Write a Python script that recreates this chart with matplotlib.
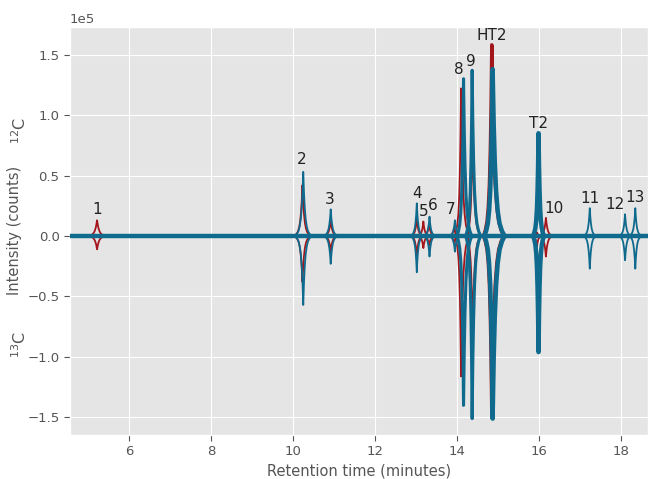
import numpy as np
import matplotlib
matplotlib.use('Agg')
import matplotlib.pyplot as plt
import matplotlib.transforms as mtransforms

plt.style.use('ggplot')

# Peak table (intensity in units of 1e5 counts)
# red trace
red_rt = [5.22, 10.23, 10.92, 13.02, 13.18, 13.32, 13.93, 14.10, 14.38, 14.85, 15.95, 16.17]
red_12c = [0.13, 0.42, 0.13, 0.15, 0.12, 0.10, 0.07, 1.22, 0.83, 1.58, 0.03, 0.15]
red_13c = [0.11, 0.38, 0.13, 0.17, 0.10, 0.08, 0.06, 1.16, 0.80, 1.47, 0.09, 0.17]
# peak tailing (minutes) on the left / right side
red_left = [0.05, 0.045, 0.04, 0.035, 0.035, 0.035, 0.035, 0.035, 0.035, 0.045, 0.03, 0.04]
red_right = [0.05, 0.045, 0.04, 0.035, 0.035, 0.035, 0.035, 0.045, 0.045, 0.065, 0.03, 0.04]

# blue trace
blue_rt = [10.25, 10.92, 13.02, 13.33, 13.95, 14.16, 14.37, 14.55, 14.87, 15.99, 17.24, 18.10, 18.35]
blue_12c = [0.53, 0.22, 0.27, 0.16, 0.13, 1.30, 1.37, 0.03, 1.38, 0.85, 0.23, 0.18, 0.23]
blue_13c = [0.57, 0.23, 0.30, 0.17, 0.13, 1.40, 1.51, 0.03, 1.51, 0.96, 0.27, 0.20, 0.27]
blue_left = [0.045, 0.04, 0.035, 0.035, 0.035, 0.035, 0.035, 0.03, 0.045, 0.03, 0.035, 0.035, 0.035]
blue_right = [0.045, 0.04, 0.035, 0.035, 0.035, 0.045, 0.045, 0.03, 0.065, 0.03, 0.035, 0.035, 0.035]

# run window
run_start, run_end = 4.5, 18.8

# peak labels
labels = ['1', '2', '3', '4', '5', '6', '7', '8', '9', 'HT2', 'T2', '10', '11', '12', '13']
label_rt = [5.22, 10.22, 10.90, 13.02, 13.20, 13.41, 13.85, 14.05, 14.34, 14.85, 15.98,
            16.37, 17.24, 17.85, 18.34]
label_int = [0.215, 0.63, 0.305, 0.35, 0.20, 0.25, 0.215, 1.38, 1.445, 1.66, 0.93,
             0.23, 0.31, 0.26, 0.32]

# relative peak profile (distance in tailing units -> fraction of apex)
profile_x = [-4.5, -3.5, -2.6, -1.9, -1.3, -0.8, -0.4, 0.0, 0.4, 0.8, 1.3, 1.9, 2.6, 3.5, 4.5]
profile_y = [0.0, 0.03, 0.075, 0.15, 0.27, 0.45, 0.67, 1.0, 0.67, 0.45, 0.27, 0.15, 0.075, 0.03, 0.0]

RED = '#a3161b'
BLUE = '#0f6a8e'
red_lw = [1.3] * 9 + [2.5] + [1.3] * 2
blue_lw = [1.3] * 5 + [2.2, 2.2, 1.3, 3.2, 3.2, 1.3, 1.3, 1.3]

px = np.array(profile_x)
py = np.array(profile_y)


def peak_xy(rt, h, wl, wr):
    x = np.where(px < 0, rt + px * wl, rt + px * wr)
    return x, py * h * 1e5


fig = plt.figure(figsize=(6.48, 4.79), dpi=100)
ax = fig.add_axes([70 / 648, 1 - 435 / 479, 1 - 70 / 648, (435 - 26.7) / 479])

order = []
for i in range(len(red_rt)):
    order.append((red_lw[i], 0, RED, red_rt[i], red_12c[i], red_13c[i], red_left[i], red_right[i]))
for i in range(len(blue_rt)):
    order.append((blue_lw[i], 1, BLUE, blue_rt[i], blue_12c[i], blue_13c[i], blue_left[i], blue_right[i]))
order.sort(key=lambda r: (r[0], r[1]))

for lw, _, c, rt, h12, h13, wl, wr in order:
    x, y = peak_xy(rt, h12, wl, wr)
    ax.plot(x, y, color=c, lw=lw, zorder=2)
    x, y = peak_xy(rt, h13, wl, wr)
    ax.plot(x, -y, color=c, lw=lw, zorder=2)

# baseline of the blue trace
ax.plot([run_start, run_end], [0, 0], color=BLUE, lw=3.2, zorder=3)

for lab, x, y in zip(labels, label_rt, label_int):
    ax.text(x, y * 1e5, lab, ha='center', va='center', fontsize=11, color='#222222')

ax.set_xlim(4.56, 18.66)
ax.set_ylim(-1.645e5, 1.73e5)
ax.set_xticks([6, 8, 10, 12, 14, 16, 18])
ax.set_yticks([-1.5e5, -1e5, -0.5e5, 0, 0.5e5, 1e5, 1.5e5])
ax.ticklabel_format(axis='y', style='sci', scilimits=(0, 0))
ax.tick_params(labelsize=9.5, length=4, width=0.8)
ax.yaxis.get_offset_text().set_fontsize(9.5)
ax.set_xlabel('Retention time (minutes)', fontsize=10.5)
ax.set_ylabel('Intensity (counts)', fontsize=10.5)

trans = mtransforms.blended_transform_factory(ax.transAxes, ax.transData)
ax.text(-0.087, 0.87e5, r'$^{12}$C', rotation=90, ha='center', va='center',
        fontsize=11.5, color='#555555', transform=trans)
ax.text(-0.087, -0.9e5, r'$^{13}$C', rotation=90, ha='center', va='center',
        fontsize=11.5, color='#555555', transform=trans)

fig.savefig('out.png', dpi=100)
